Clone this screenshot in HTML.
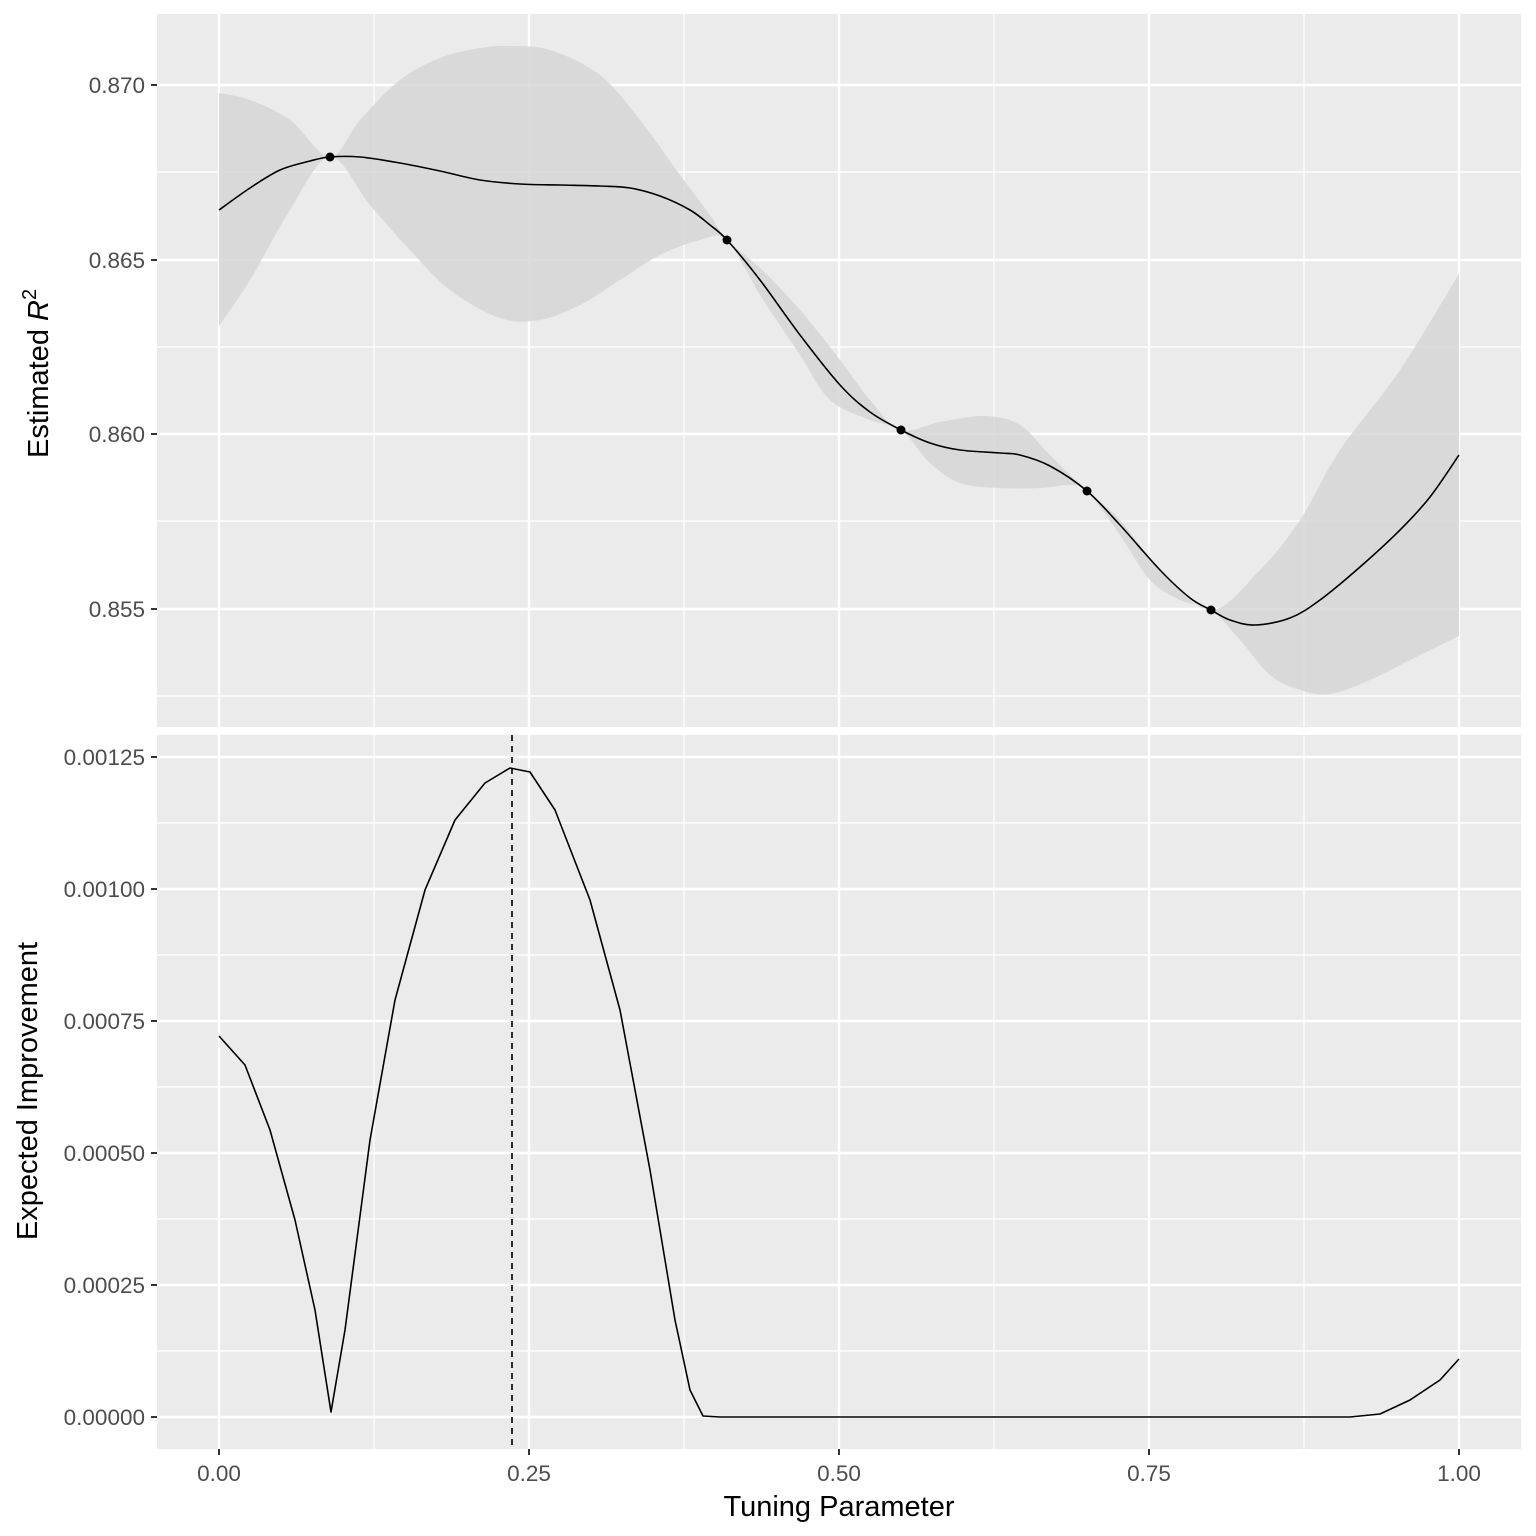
<!DOCTYPE html><html><head><meta charset="utf-8"><style>body{margin:0;background:#fff}svg{display:block}text{font-family:"Liberation Sans",sans-serif}</style></head><body>
<svg id="s" width="1536" height="1536" xmlns="http://www.w3.org/2000/svg">
<rect x="157" y="14" width="1364" height="713" fill="#ebebeb"/>
<rect x="157" y="735" width="1364" height="714" fill="#ebebeb"/>
<g stroke="#fff" stroke-width="1.2">
<line x1="157" x2="1521" y1="172" y2="172"/><line x1="157" x2="1521" y1="347" y2="347"/><line x1="157" x2="1521" y1="521" y2="521"/><line x1="157" x2="1521" y1="696" y2="696"/>
<line x1="374" x2="374" y1="14" y2="727"/><line x1="684" x2="684" y1="14" y2="727"/><line x1="994" x2="994" y1="14" y2="727"/><line x1="1304" x2="1304" y1="14" y2="727"/>
<line x1="157" x2="1521" y1="823" y2="823"/><line x1="157" x2="1521" y1="955" y2="955"/><line x1="157" x2="1521" y1="1087" y2="1087"/><line x1="157" x2="1521" y1="1219" y2="1219"/><line x1="157" x2="1521" y1="1351" y2="1351"/>
<line x1="374" x2="374" y1="735" y2="1449"/><line x1="684" x2="684" y1="735" y2="1449"/><line x1="994" x2="994" y1="735" y2="1449"/><line x1="1304" x2="1304" y1="735" y2="1449"/>
</g>
<g stroke="#fff" stroke-width="2.4">
<line x1="157" x2="1521" y1="85" y2="85"/><line x1="157" x2="1521" y1="260" y2="260"/><line x1="157" x2="1521" y1="434" y2="434"/><line x1="157" x2="1521" y1="609" y2="609"/>
<line x1="219" x2="219" y1="14" y2="727"/><line x1="529" x2="529" y1="14" y2="727"/><line x1="839" x2="839" y1="14" y2="727"/><line x1="1149" x2="1149" y1="14" y2="727"/><line x1="1459" x2="1459" y1="14" y2="727"/>
<line x1="157" x2="1521" y1="757" y2="757"/><line x1="157" x2="1521" y1="889" y2="889"/><line x1="157" x2="1521" y1="1021" y2="1021"/><line x1="157" x2="1521" y1="1153" y2="1153"/><line x1="157" x2="1521" y1="1285" y2="1285"/><line x1="157" x2="1521" y1="1417" y2="1417"/>
<line x1="219" x2="219" y1="735" y2="1449"/><line x1="529" x2="529" y1="735" y2="1449"/><line x1="839" x2="839" y1="735" y2="1449"/><line x1="1149" x2="1149" y1="735" y2="1449"/><line x1="1459" x2="1459" y1="735" y2="1449"/>
</g>
<polygon class="sm" fill="#d6d6d6" fill-opacity="0.85" points="219,93 250,100 290,120 330,157 360,120 400,80 440,58 480,48 510,46 550,50 600,75 640,120 680,175 710,215 727,240 760,268 800,310 840,360 870,400 901,430 940,422 985,416 1020,425 1050,455 1087,491 1120,520 1160,570 1211,610 1260,570 1300,520 1340,450 1400,370 1459,274 1459,636 1410,660 1370,680 1330,694 1300,690 1270,675 1240,640 1211,610 1180,600 1150,580 1120,535 1087,491 1070,485 1040,488 1000,488 960,483 930,463 901,430 870,420 830,400 800,355 760,295 727,240 700,240 660,255 620,280 580,305 540,320 500,318 450,290 410,250 370,205 330,157 290,210 250,280 219,326"/>
<polyline class="sm" fill="none" stroke="#000" stroke-width="1.6" stroke-linejoin="round" points="219,210 250,188 280,170 310,161 330,157 360,157 400,163 440,171 480,180 520,184 560,185 600,186 630,188 660,196 690,210 710,225 727,240 760,280 800,335 840,385 870,412 901,430 930,443 960,450 1000,453 1020,455 1050,466 1087,491 1120,525 1160,570 1190,598 1211,610 1230,620 1255,625 1290,618 1320,600 1360,567 1400,530 1430,497 1459,455"/>
<g fill="#000"><circle cx="330" cy="157" r="4.5"/><circle cx="727" cy="240" r="4.5"/><circle cx="901" cy="430" r="4.5"/><circle cx="1087" cy="491" r="4.5"/><circle cx="1211" cy="610" r="4.5"/></g>
<polyline fill="none" stroke="#000" stroke-width="1.6" stroke-linejoin="round" points="219,1036 245,1065 270,1130 295,1220 315,1310 331,1412 345,1330 370,1140 395,1000 425,890 455,820 485,783 510,768 530,772 555,810 590,900 620,1010 650,1170 675,1320 690,1390 703,1416 720,1417 1350,1417 1380,1414 1410,1400 1440,1380 1459,1359"/>
<line x1="512" x2="512" y1="735" y2="1449" stroke="#000" stroke-width="1.6" stroke-dasharray="6,5"/>
<g stroke="#333" stroke-width="2">
<line x1="151" x2="157" y1="85" y2="85"/><line x1="151" x2="157" y1="260" y2="260"/><line x1="151" x2="157" y1="434" y2="434"/><line x1="151" x2="157" y1="609" y2="609"/>
<line x1="151" x2="157" y1="757" y2="757"/><line x1="151" x2="157" y1="889" y2="889"/><line x1="151" x2="157" y1="1021" y2="1021"/><line x1="151" x2="157" y1="1153" y2="1153"/><line x1="151" x2="157" y1="1285" y2="1285"/><line x1="151" x2="157" y1="1417" y2="1417"/>
<line x1="219" x2="219" y1="1449" y2="1455"/><line x1="529" x2="529" y1="1449" y2="1455"/><line x1="839" x2="839" y1="1449" y2="1455"/><line x1="1149" x2="1149" y1="1449" y2="1455"/><line x1="1459" x2="1459" y1="1449" y2="1455"/>
</g>
<g fill="#4d4d4d" font-size="22.5" text-anchor="end">
<text x="145" y="93">0.870</text><text x="145" y="268">0.865</text><text x="145" y="442">0.860</text><text x="145" y="617">0.855</text>
<text x="145" y="765">0.00125</text><text x="145" y="897">0.00100</text><text x="145" y="1029">0.00075</text><text x="145" y="1161">0.00050</text><text x="145" y="1293">0.00025</text><text x="145" y="1425">0.00000</text>
</g>
<g fill="#4d4d4d" font-size="22.5" text-anchor="middle">
<text x="219" y="1481">0.00</text><text x="529" y="1481">0.25</text><text x="839" y="1481">0.50</text><text x="1149" y="1481">0.75</text><text x="1459" y="1481">1.00</text>
</g>
<text x="839" y="1516" font-size="29" text-anchor="middle" fill="#000">Tuning Parameter</text>
<text transform="translate(48,458) rotate(-90)" font-size="29" fill="#000">Estimated <tspan font-style="italic">R</tspan><tspan font-size="20" dy="-12">2</tspan></text>
<text transform="translate(37,1091) rotate(-90)" font-size="29" text-anchor="middle" fill="#000">Expected Improvement</text>
</svg>
<script>
function sm(p,first){
var d=first?'M'+p[0][0]+','+p[0][1]:' L'+p[0][0]+','+p[0][1];
for(var i=0;i<p.length-1;i++){
var p0=p[i-1]||p[i],p1=p[i],p2=p[i+1],p3=p[i+2]||p2;
var c1=[p1[0]+(p2[0]-p0[0])/6,p1[1]+(p2[1]-p0[1])/6],c2=[p2[0]-(p3[0]-p1[0])/6,p2[1]-(p3[1]-p1[1])/6];
d+=' C'+c1[0]+','+c1[1]+' '+c2[0]+','+c2[1]+' '+p2[0]+','+p2[1];}
return d;}
document.querySelectorAll('.sm').forEach(function(el){
var p=el.getAttribute('points').trim().split(/\s+/).map(function(s){return s.split(',').map(Number)});
var d;
if(el.tagName==='polygon'){
var k=0;for(var i=0;i<p.length;i++){if(p[i][0]===1459){k=i;break;}}
d=sm(p.slice(0,k+1),true)+sm(p.slice(k+1),false)+'Z';
}else d=sm(p,true);
var n=document.createElementNS('http://www.w3.org/2000/svg','path');
['fill','fill-opacity','stroke','stroke-width','stroke-linejoin'].forEach(function(a){if(el.getAttribute(a))n.setAttribute(a,el.getAttribute(a))});
n.setAttribute('d',d);el.parentNode.replaceChild(n,el);});
</script>
</body></html>
